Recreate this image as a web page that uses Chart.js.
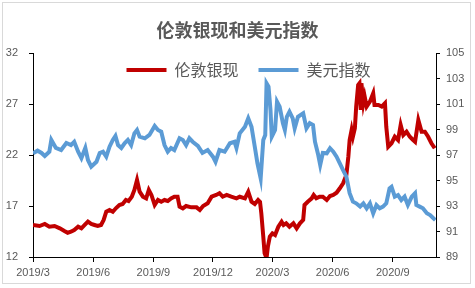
<!DOCTYPE html>
<html><head><meta charset="utf-8">
<script src="https://cdn.jsdelivr.net/npm/chart.js@4.4.0/dist/chart.umd.min.js"></script>
<style>html,body{margin:0;padding:0;background:#fff;}</style>
</head><body>
<canvas id="c" width="475" height="288"></canvas>
<script>
const chartTitle = '伦敦银现和美元指数';
const seriesNames = ['伦敦银现', '美元指数'];
// x positions are day offsets from 2019-03-01
const xTickDays = [0, 92, 184, 275, 366, 458, 550];
const xTickLabels = ['2019/3', '2019/6', '2019/9', '2019/12', '2020/3', '2020/6', '2020/9'];
const leftTicks = [12, 17, 22, 27, 32];
const rightTicks = [89, 91, 93, 95, 97, 99, 101, 103, 105];

const silverDays = [0,10,18,25,33,41,48,53,58,63,69,74,79,84,89,94,99,104,108,112,117,122,127,132,137,142,146,151,155,159,163,168,173,177,181,186,191,196,201,206,211,216,221,224,229,234,242,250,255,260,267,273,280,285,290,296,303,311,316,324,329,334,339,344,347,349,352,354,357,359,362,366,370,375,380,383,387,392,398,403,408,413,415,420,426,429,433,438,443,449,454,459,464,469,474,479,482,484,487,489,492,494,497,499,501,502,505,507,510,515,520,522,528,533,538,540,543,548,553,558,562,566,571,576,581,584,589,594,599,604,609,614];
const silverValues = [15.14,15.04,15.24,14.97,15.04,14.81,14.55,14.38,14.48,14.65,14.97,14.81,15.14,15.46,15.24,15.14,15.04,15.14,15.63,16.44,16.61,16.44,16.80,17.10,17.20,17.59,17.49,17.91,18.57,19.55,18.40,17.91,17.75,18.57,18.08,17.10,17.59,17.42,17.59,17.49,17.75,17.91,17.91,16.93,16.77,17.00,16.87,16.87,16.61,17.00,17.26,17.91,18.08,18.25,17.91,18.08,17.91,17.75,17.91,17.75,18.40,17.42,17.20,17.59,17.39,16.28,13.99,12.36,11.9,13.01,13.99,14.32,14.16,14.97,15.46,15.14,15.30,14.97,15.30,14.81,15.30,15.63,17.10,17.42,17.75,18.08,17.75,17.91,17.91,17.59,17.98,18.08,18.30,18.74,19.23,20.04,21.83,23.47,24.45,23.79,24.62,26.74,28.86,29.03,26.41,29.03,27.07,27.72,26.74,27.23,28.05,26.90,26.90,26.74,27.07,24.77,22.81,23.15,23.79,23.47,24.94,23.96,24.28,23.79,23.47,23.30,25.43,24.28,24.28,23.79,23.15,22.66];

const dxyDays = [0,7,13,18,25,28,35,43,51,58,63,69,74,80,84,89,97,102,107,112,117,122,126,130,135,140,145,150,155,159,163,171,178,186,191,196,201,206,211,216,224,229,234,239,244,252,259,267,275,279,285,293,301,308,311,316,324,329,334,339,343,348,352,355,357,360,363,365,370,373,377,382,385,388,392,397,400,405,413,418,423,428,431,436,439,443,449,454,459,464,469,474,479,484,489,494,500,505,510,515,520,525,530,535,540,545,548,553,558,563,568,573,579,584,586,591,596,602,607,612,615];
const dxyValues = [97.13,97.34,97.16,96.92,97.26,98.18,97.55,97.39,97.94,97.78,98.04,97.26,96.76,97.55,96.61,96.08,96.47,97.16,97.26,96.87,97.65,98.18,98.49,97.78,97.55,97.92,98.18,97.78,98.70,98.96,98.44,98.31,98.57,99.27,98.96,98.83,97.78,97.26,97.55,97.39,98.31,98.18,97.78,98.31,98.04,97.71,97.16,97.39,96.87,96.47,97.39,97.26,97.92,98.04,97.55,98.70,99.22,99.88,99.22,97.65,96.37,95.17,98.18,98.57,102.62,102.36,100.53,98.44,98.96,101.18,100.79,99.49,98.96,100.00,100.40,99.88,99.09,100.00,100.27,99.09,99.49,99.35,98.04,97.00,96.22,97.16,97.13,97.53,97.26,96.87,96.35,95.82,95.30,94.00,93.34,93.21,92.95,93.21,92.82,93.21,92.43,93.08,92.82,92.95,93.21,94.39,94.51,93.73,93.86,93.47,93.73,93.08,93.73,94.00,93.08,92.95,92.82,92.43,92.29,92.04,91.90];

const colors = ['#C00000', '#5B9BD5'];
const axisColor = '#000000';
const labelColor = '#595959';
const tickFont = { family: "'Liberation Sans', Arial, sans-serif", size: 11 };
const cjk = "'Noto Sans CJK SC', 'Noto Sans', sans-serif";

const framePlugin = {
  id: 'frame',
  beforeDraw(chart) {
    const c = chart.ctx;
    c.save();
    c.fillStyle = '#ffffff';
    c.fillRect(0, 0, chart.width, chart.height);
    c.strokeStyle = '#D9D9D9';
    c.lineWidth = 1;
    c.strokeRect(2.5, 2.5, 468, 281);
    c.restore();
  }
};

const legendPlace = {
  id: 'legendPlace',
  beforeLayout(chart) {
    const lg = chart.legend;
    if (lg && !lg._patched) {
      const f = lg.fit;
      lg.fit = function () { f.call(this); this.height = 0; };
      lg._patched = true;
    }
  },
  afterLayout(chart) {
    const lg = chart.legend;
    if (!lg) return;
    lg.top = 42; lg.bottom = 94; lg.height = 52;
    lg.left += 11; lg.right += 11;
  }
};

new Chart(document.getElementById('c'), {
  type: 'line',
  data: {
    datasets: [
      {
        label: seriesNames[0],
        data: silverDays.map((d, i) => ({ x: d, y: silverValues[i] })),
        borderColor: colors[0], backgroundColor: colors[0],
        borderWidth: 4, pointRadius: 0, tension: 0, yAxisID: 'y', order: 1
      },
      {
        label: seriesNames[1],
        data: dxyDays.map((d, i) => ({ x: d, y: dxyValues[i] })),
        borderColor: colors[1], backgroundColor: colors[1],
        borderWidth: 4, pointRadius: 0, tension: 0, yAxisID: 'y1', order: 0
      }
    ]
  },
  options: {
    responsive: false, animation: false, devicePixelRatio: 1,
    layout: { padding: 0 },
    plugins: {
      title: {
        display: true, text: chartTitle, color: '#595959',
        font: { family: cjk, size: 18, weight: 'bold' },
        padding: { top: 19.5, bottom: 11.9 }
      },
      legend: {
        display: true, position: 'top',
        labels: {
          color: '#595959', font: { family: cjk, size: 16 },
          boxWidth: 40, boxHeight: 4, padding: 20,
          sort: (a, b) => a.datasetIndex - b.datasetIndex,
          generateLabels: (chart) => Chart.defaults.plugins.legend.labels.generateLabels(chart)
            .map(l => Object.assign(l, { fillStyle: l.strokeStyle, lineWidth: 0 }))
        }
      },
      tooltip: { enabled: false }
    },
    scales: {
      x: {
        type: 'linear', min: 0, max: 616,
        afterBuildTicks: (s) => { s.ticks = xTickDays.map(v => ({ value: v })); },
        afterFit: (s) => { s.height = 31; },
        ticks: {
          autoSkip: false, maxRotation: 0, color: labelColor, font: tickFont, padding: 4,
          callback: (v) => { const i = xTickDays.indexOf(v); return i >= 0 ? xTickLabels[i] : ''; }
        },
        grid: { drawOnChartArea: false, drawTicks: true, tickLength: 5, color: axisColor },
        border: { color: axisColor, width: 1 }
      },
      y: {
        position: 'left', min: leftTicks[0], max: leftTicks[leftTicks.length - 1],
        afterBuildTicks: (s) => { s.ticks = leftTicks.map(v => ({ value: v })); },
        afterFit: (s) => { s.width = 33; },
        ticks: { color: labelColor, font: tickFont, padding: 11 },
        grid: { drawOnChartArea: false, drawTicks: true, tickLength: 4, color: axisColor },
        border: { color: axisColor, width: 1 }
      },
      y1: {
        position: 'right', min: rightTicks[0], max: rightTicks[rightTicks.length - 1],
        afterBuildTicks: (s) => { s.ticks = rightTicks.map(v => ({ value: v })); },
        afterFit: (s) => { s.width = 39; },
        ticks: { color: labelColor, font: tickFont, padding: 6 },
        grid: { drawOnChartArea: false, drawTicks: true, tickLength: 4, color: axisColor },
        border: { color: axisColor, width: 1 }
      }
    }
  },
  plugins: [framePlugin, legendPlace]
});
</script>
</body></html>
